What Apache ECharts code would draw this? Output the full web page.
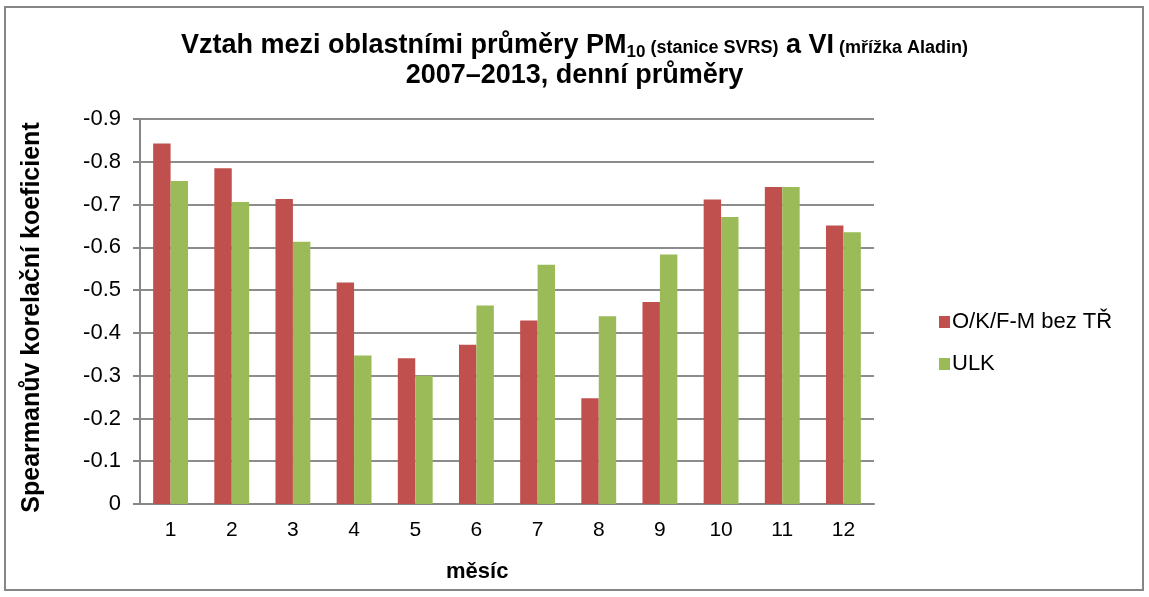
<!DOCTYPE html>
<html>
<head>
<meta charset="utf-8">
<script src="https://cdn.jsdelivr.net/npm/echarts@6/dist/echarts.min.js"></script>
<style>html,body{margin:0;padding:0;background:#fff}#c{width:1149px;height:597px}</style>
</head>
<body>
<div id="c"></div>
<script>
const months = ['1','2','3','4','5','6','7','8','9','10','11','12'];
const seriesNames = ['O/K/F-M bez TŘ', 'ULK'];
const okfm = [-0.843, -0.785, -0.713, -0.518, -0.341, -0.372, -0.429, -0.247, -0.472, -0.712, -0.741, -0.651];
const ulk = [-0.755, -0.706, -0.613, -0.347, -0.300, -0.464, -0.559, -0.439, -0.583, -0.671, -0.741, -0.635];
const yTicks = { min: -0.9, max: 0, interval: 0.1 };

const FONT = '"Liberation Sans", Arial, sans-serif';
const chart = echarts.init(document.getElementById('c'));
chart.setOption({
  animation: false,
  backgroundColor: '#fff',
  textStyle: { fontFamily: FONT },
  title: {
    left: 'center',
    top: 26,
    text: '{a|Vztah mezi oblastními průměry PM}{sub|10}{s| (stanice SVRS)}{a| a VI}{s| (mřížka Aladin)}\n{a|2007–2013, denní průměry}',
    textStyle: {
      fontFamily: FONT,
      rich: {
        a: { fontSize: 27, fontWeight: 'bold', color: '#000', fontFamily: FONT, lineHeight: 30 },
        sub: { fontSize: 17, fontWeight: 'bold', color: '#000', fontFamily: FONT, lineHeight: 30, padding: [13, 0, 0, 0] },
        s: { fontSize: 18, fontWeight: 'bold', color: '#000', fontFamily: FONT, lineHeight: 30, padding: [5, 0, 0, 0] }
      }
    }
  },
  legend: {
    orient: 'vertical',
    left: 934,
    top: 306,
    itemWidth: 11,
    itemHeight: 12,
    itemGap: 20,
    icon: 'rect',
    textStyle: { fontSize: 22, color: '#000', fontFamily: FONT, padding: [0, 0, 0, -3] },
    data: seriesNames
  },
  grid: { left: 140, right: 275, top: 119, bottom: 93 },
  xAxis: {
    type: 'category',
    data: months,
    axisLine: { lineStyle: { color: '#868686', width: 2 } },
    axisTick: { inside: true, length: 6, lineStyle: { color: '#868686', width: 2 } },
    axisLabel: { fontSize: 21, color: '#000', margin: 16, fontFamily: FONT }
  },
  yAxis: {
    type: 'value',
    inverse: true,
    min: yTicks.min,
    max: yTicks.max,
    interval: yTicks.interval,
    name: 'Spearmanův korelační koeficient',
    nameLocation: 'middle',
    nameGap: 95,
    nameTextStyle: { fontSize: 25, fontWeight: 'bold', color: '#000', fontFamily: FONT, padding: [0, 12, 0, 0] },
    axisLine: { show: true, lineStyle: { color: '#868686', width: 2 } },
    axisTick: { show: true, length: 7, lineStyle: { color: '#868686', width: 2 } },
    axisLabel: {
      fontSize: 22, color: '#000', margin: 19, fontFamily: FONT,
      formatter: v => Math.abs(v) < 1e-9 ? '0' : v.toFixed(1)
    },
    splitLine: { lineStyle: { color: '#8c8c8c', width: 2 } }
  },
  series: [
    { name: seriesNames[0], type: 'bar', data: okfm, barGap: '0%', barCategoryGap: '43%', itemStyle: { color: '#C0504D' } },
    { name: seriesNames[1], type: 'bar', data: ulk, barGap: '0%', barCategoryGap: '43%', itemStyle: { color: '#9BBB59' } }
  ],
  graphic: [
    { type: 'rect', shape: { x: 5, y: 7, width: 1138, height: 583 }, style: { fill: 'none', stroke: '#868686', lineWidth: 2 }, z: -1 },
    { type: 'text', left: 446, top: 561, style: { text: 'měsíc', font: 'bold 22px "Liberation Sans", Arial, sans-serif', fill: '#000' } }
  ]
});
</script>
</body>
</html>
